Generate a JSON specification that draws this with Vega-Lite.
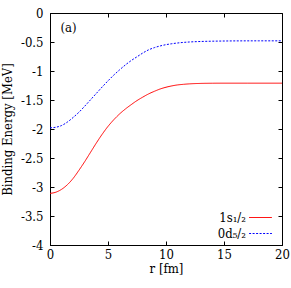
{
  "$schema": "https://vega.github.io/schema/vega-lite/v6.json",
  "width": 232,
  "height": 232,
  "autosize": "none",
  "padding": {"left": 50, "top": 13, "right": 9, "bottom": 43},
  "config": {
    "font": "DejaVu Serif Condensed, DejaVu Serif, serif",
    "view": {"stroke": "black", "strokeWidth": 1},
    "axis": {
      "domainColor": "black",
      "tickColor": "black",
      "labelColor": "black",
      "titleColor": "black",
      "labelFont": "DejaVu Serif Condensed, DejaVu Serif, serif",
      "titleFont": "DejaVu Serif Condensed, DejaVu Serif, serif",
      "labelFontSize": 13,
      "titleFontSize": 13,
      "titleFontWeight": "normal",
      "grid": false,
      "tickWidth": 1
    }
  },
  "datasets": {
    "curves": [
      {"r": 0, "E": -3.11, "state": "1s1/2"},
      {"r": 0.5, "E": -3.09, "state": "1s1/2"},
      {"r": 1, "E": -3.04, "state": "1s1/2"},
      {"r": 1.5, "E": -2.96, "state": "1s1/2"},
      {"r": 2, "E": -2.85, "state": "1s1/2"},
      {"r": 2.5, "E": -2.71, "state": "1s1/2"},
      {"r": 3, "E": -2.56, "state": "1s1/2"},
      {"r": 3.5, "E": -2.4, "state": "1s1/2"},
      {"r": 4, "E": -2.24, "state": "1s1/2"},
      {"r": 4.5, "E": -2.09, "state": "1s1/2"},
      {"r": 5, "E": -1.955, "state": "1s1/2"},
      {"r": 5.5, "E": -1.84, "state": "1s1/2"},
      {"r": 6, "E": -1.74, "state": "1s1/2"},
      {"r": 6.5, "E": -1.655, "state": "1s1/2"},
      {"r": 7, "E": -1.58, "state": "1s1/2"},
      {"r": 7.5, "E": -1.51, "state": "1s1/2"},
      {"r": 8, "E": -1.45, "state": "1s1/2"},
      {"r": 8.5, "E": -1.395, "state": "1s1/2"},
      {"r": 9, "E": -1.35, "state": "1s1/2"},
      {"r": 9.5, "E": -1.31, "state": "1s1/2"},
      {"r": 10, "E": -1.28, "state": "1s1/2"},
      {"r": 10.5, "E": -1.257, "state": "1s1/2"},
      {"r": 11, "E": -1.24, "state": "1s1/2"},
      {"r": 11.5, "E": -1.23, "state": "1s1/2"},
      {"r": 12, "E": -1.222, "state": "1s1/2"},
      {"r": 13, "E": -1.214, "state": "1s1/2"},
      {"r": 14, "E": -1.211, "state": "1s1/2"},
      {"r": 15, "E": -1.21, "state": "1s1/2"},
      {"r": 17, "E": -1.21, "state": "1s1/2"},
      {"r": 20, "E": -1.21, "state": "1s1/2"},
      {"r": 0, "E": -1.98, "state": "0d5/2"},
      {"r": 0.5, "E": -1.97, "state": "0d5/2"},
      {"r": 1, "E": -1.94, "state": "0d5/2"},
      {"r": 1.5, "E": -1.88, "state": "0d5/2"},
      {"r": 2, "E": -1.8, "state": "0d5/2"},
      {"r": 2.5, "E": -1.71, "state": "0d5/2"},
      {"r": 3, "E": -1.605, "state": "0d5/2"},
      {"r": 3.5, "E": -1.495, "state": "0d5/2"},
      {"r": 4, "E": -1.385, "state": "0d5/2"},
      {"r": 4.5, "E": -1.275, "state": "0d5/2"},
      {"r": 5, "E": -1.17, "state": "0d5/2"},
      {"r": 5.5, "E": -1.07, "state": "0d5/2"},
      {"r": 6, "E": -0.98, "state": "0d5/2"},
      {"r": 6.5, "E": -0.895, "state": "0d5/2"},
      {"r": 7, "E": -0.82, "state": "0d5/2"},
      {"r": 7.5, "E": -0.755, "state": "0d5/2"},
      {"r": 8, "E": -0.69, "state": "0d5/2"},
      {"r": 8.5, "E": -0.635, "state": "0d5/2"},
      {"r": 9, "E": -0.597, "state": "0d5/2"},
      {"r": 9.5, "E": -0.568, "state": "0d5/2"},
      {"r": 10, "E": -0.546, "state": "0d5/2"},
      {"r": 10.5, "E": -0.53, "state": "0d5/2"},
      {"r": 11, "E": -0.517, "state": "0d5/2"},
      {"r": 11.5, "E": -0.507, "state": "0d5/2"},
      {"r": 12, "E": -0.5, "state": "0d5/2"},
      {"r": 13, "E": -0.491, "state": "0d5/2"},
      {"r": 14, "E": -0.486, "state": "0d5/2"},
      {"r": 15, "E": -0.483, "state": "0d5/2"},
      {"r": 16, "E": -0.481, "state": "0d5/2"},
      {"r": 18, "E": -0.48, "state": "0d5/2"},
      {"r": 20, "E": -0.48, "state": "0d5/2"}
    ],
    "panel": [{"label": "(a)", "r": 0.9, "E": -0.25}]
  },
  "layer": [
    {
      "data": {"name": "curves"},
      "mark": {"type": "line", "strokeWidth": 1, "interpolate": "monotone"},
      "encoding": {
        "x": {
          "field": "r", "type": "quantitative",
          "scale": {"domain": [0, 20], "nice": false},
          "axis": {"orient": "bottom", "values": [0, 5, 10, 15, 20], "title": "r [fm]", "ticks": false, "labelPadding": 3, "titlePadding": 1, "labelFlush": false}
        },
        "y": {
          "field": "E", "type": "quantitative",
          "scale": {"domain": [-4, 0], "nice": false},
          "axis": {"orient": "left", "values": [0, -0.5, -1, -1.5, -2, -2.5, -3, -3.5, -4], "labelExpr": "datum.value + ''", "title": "Binding Energy [MeV]", "ticks": false, "labelPadding": 7, "titlePadding": 6, "labelFlush": false}
        },
        "color": {
          "field": "state", "type": "nominal",
          "scale": {"domain": ["1s1/2", "0d5/2"], "range": ["#ff0000", "#0000ff"]},
          "legend": {
            "orient": "none", "legendX": 204, "legendY": 198, "title": null,
            "symbolType": "M-2,0H2", "symbolSize": 130, "symbolStrokeWidth": 1,
            "labelAlign": "right", "labelOffset": -21, "labelFontSize": 13,
            "labelFont": "DejaVu Serif Condensed, DejaVu Serif, serif", "labelColor": "black", "rowPadding": 2,
            "labelExpr": "datum.label == '1s1/2' ? '1s\u2081/\u2082' : '0d\u2085/\u2082'"
          }
        },
        "strokeDash": {
          "field": "state", "type": "nominal",
          "scale": {"domain": ["1s1/2", "0d5/2"], "range": [[1, 0], [2, 1.5]]},
          "legend": null
        }
      }
    },
    {
      "data": {"name": "panel"},
      "mark": {"type": "text", "align": "left", "baseline": "middle", "fontSize": 13, "font": "DejaVu Serif Condensed, DejaVu Serif, serif", "color": "black"},
      "encoding": {
        "x": {"field": "r", "type": "quantitative", "axis": {"orient": "top", "offset": -232, "values": [0, 5, 10, 15, 20], "labels": false, "title": null, "domain": false, "tickSize": 4}},
        "y": {"field": "E", "type": "quantitative", "axis": {"orient": "right", "offset": -232, "values": [0, -0.5, -1, -1.5, -2, -2.5, -3, -3.5, -4], "labels": false, "title": null, "domain": false, "tickSize": 4}},
        "text": {"field": "label"}
      }
    },
    {
      "data": {"name": "panel"},
      "mark": {"type": "point", "opacity": 0},
      "encoding": {
        "x": {"field": "r", "type": "quantitative", "axis": {"orient": "bottom", "offset": -232, "values": [0, 5, 10, 15, 20], "labels": false, "title": null, "domain": false, "tickSize": 4}},
        "y": {"field": "E", "type": "quantitative", "axis": {"orient": "left", "offset": -232, "values": [0, -0.5, -1, -1.5, -2, -2.5, -3, -3.5, -4], "labels": false, "title": null, "domain": false, "tickSize": 4}}
      }
    }
  ],
  "resolve": {"axis": {"x": "independent", "y": "independent"}}
}
